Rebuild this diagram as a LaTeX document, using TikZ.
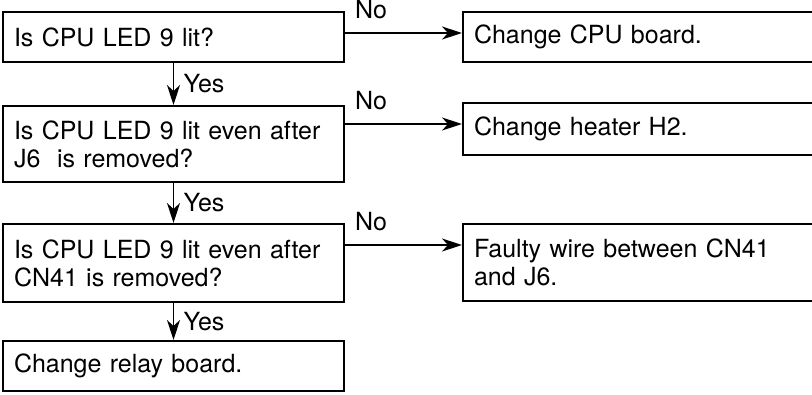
\documentclass[tikz,border=0pt]{standalone}
\usepackage{fontspec}
\setmainfont{TeX Gyre Heros}
\usetikzlibrary{arrows.meta,positioning,calc}

\begin{document}
\begin{tikzpicture}[node distance=41pt and 117pt,every node/.style={font=\fontsize{25}{28}\selectfont},
    chk/.style={draw,line width=2pt,align=left,text width=319pt,inner xsep=11pt,inner ysep=0pt,minimum height=50pt},
    fix/.style={chk,text width=329pt},
    flow/.style={-{Stealth[length=20pt,width=13pt,inset=6pt]},line width=1.5pt}]
    \useasboundingbox (0,0) rectangle (812pt,-394pt);
    % left column: checks
    \node[chk,anchor=north west] (led) at (2pt,-11pt) {Is CPU LED 9 lit?};
    \node[chk,below=42pt of led,minimum height=76pt] (jsix) {Is CPU LED 9 lit even after\\J6\ \ is removed?};
    \node[chk,below=40pt of jsix,minimum height=78pt] (cnfo) {Is CPU LED 9 lit even after\\CN41 is removed?};
    \node[chk,below=37pt of cnfo] (relay) {Change relay board.};
    % right column: fixes
    \node[fix,anchor=north west] (cpu) at ([xshift=117pt]led.north east) {Change CPU board.};
    \node[fix,anchor=north west,minimum height=52pt] (heater) at ([xshift=117pt,yshift=3pt]jsix.north east) {Change heater H2.};
    \node[fix,anchor=north west,minimum height=77pt] (wire) at ([xshift=117pt]cnfo.north east) {Faulty wire between CN41\\and J6.};
    \coordinate (no1) at ([yshift=-22pt]cpu.north west);
    \coordinate (no2) at ([yshift=-22pt]heater.north west);
    \coordinate (no3) at ([yshift=-22pt]wire.north west);
    \foreach \x/\y in {led/jsix,jsix/cnfo,cnfo/relay}{\draw[flow] (\x) -- (\y) node[midway,right=6pt] {Yes};}
    \foreach \x/\y in {led/no1,jsix/no2,cnfo/no3}{\draw[flow] (\x.east |- \y) -- (\y) node[pos=0,anchor=south west,xshift=6pt,yshift=10pt] {No};}
  \end{tikzpicture}
\end{document}
